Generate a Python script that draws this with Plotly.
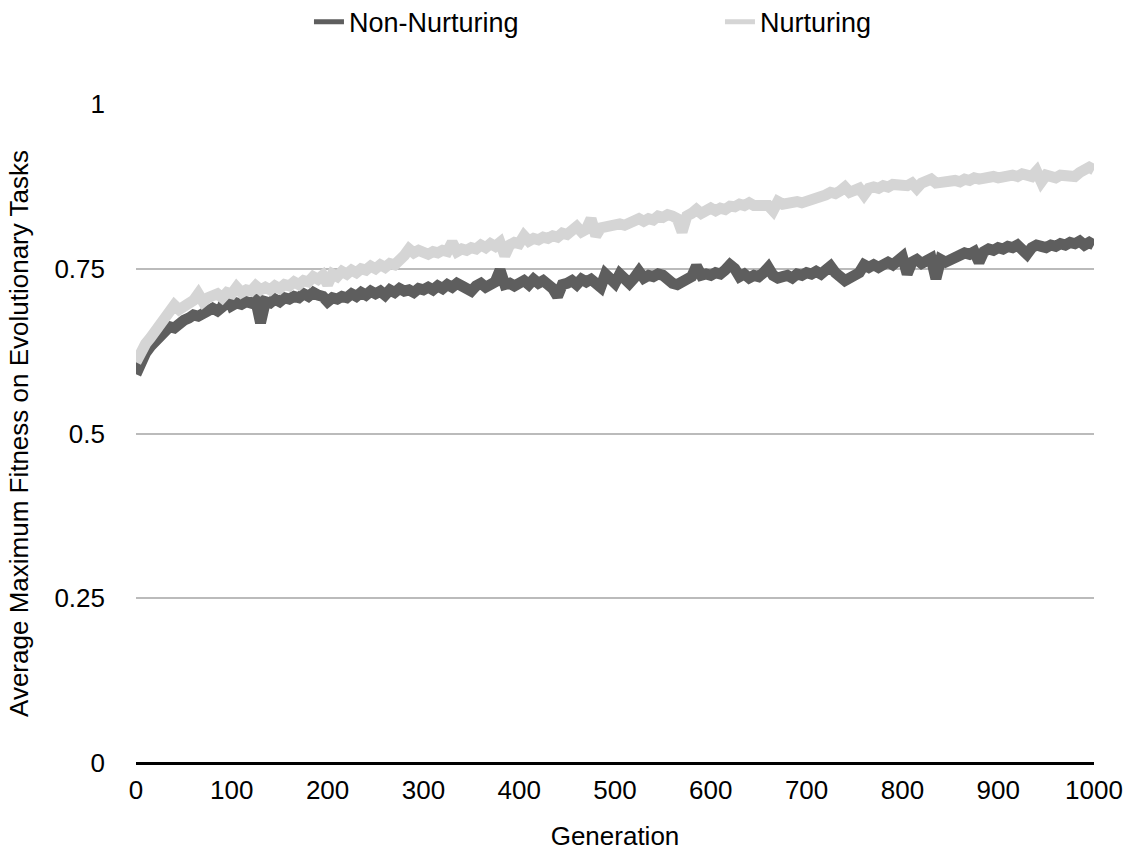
import plotly.graph_objects as go

generations = list(range(0, 1001, 5))

non_nurturing = [
    0.590, 0.608, 0.622, 0.632, 0.640, 0.650, 0.655, 0.662, 0.660, 0.668,
    0.672, 0.675, 0.680, 0.678, 0.684, 0.686, 0.690, 0.686, 0.692, 0.712,
    0.694, 0.698, 0.696, 0.700, 0.698, 0.702, 0.668, 0.700, 0.698, 0.704,
    0.700, 0.706, 0.704, 0.708, 0.706, 0.712, 0.708, 0.714, 0.710, 0.708,
    0.700, 0.706, 0.704, 0.708, 0.706, 0.712, 0.708, 0.714, 0.710, 0.716,
    0.712, 0.716, 0.710, 0.718, 0.714, 0.720, 0.716, 0.718, 0.714, 0.720,
    0.718, 0.722, 0.718, 0.724, 0.720, 0.726, 0.722, 0.728, 0.724, 0.722,
    0.716, 0.724, 0.728, 0.722, 0.726, 0.730, 0.748, 0.726, 0.728, 0.724,
    0.728, 0.732, 0.726, 0.734, 0.728, 0.732, 0.726, 0.720, 0.708, 0.726,
    0.728, 0.732, 0.726, 0.734, 0.730, 0.734, 0.728, 0.722, 0.742, 0.732,
    0.728, 0.742, 0.732, 0.728, 0.736, 0.746, 0.736, 0.740, 0.738, 0.742,
    0.740, 0.732, 0.728, 0.726, 0.730, 0.734, 0.738, 0.754, 0.740, 0.742,
    0.740, 0.744, 0.742, 0.748, 0.756, 0.750, 0.738, 0.742, 0.736, 0.740,
    0.738, 0.744, 0.752, 0.740, 0.736, 0.738, 0.740, 0.736, 0.742, 0.740,
    0.744, 0.742, 0.746, 0.742, 0.748, 0.754, 0.744, 0.740, 0.732, 0.736,
    0.740, 0.744, 0.756, 0.752, 0.756, 0.752, 0.756, 0.760, 0.756, 0.762,
    0.768, 0.742, 0.760, 0.764, 0.758, 0.762, 0.766, 0.735, 0.764, 0.760,
    0.764, 0.768, 0.770, 0.774, 0.772, 0.776, 0.760, 0.776, 0.780, 0.778,
    0.782, 0.780, 0.784, 0.782, 0.786, 0.780, 0.772, 0.782, 0.786, 0.784,
    0.782, 0.786, 0.784, 0.788, 0.786, 0.790, 0.788, 0.792, 0.786, 0.790,
    0.786,
]

nurturing = [
    0.608, 0.625, 0.636, 0.645, 0.655, 0.665, 0.672, 0.680, 0.695, 0.688,
    0.692, 0.698, 0.702, 0.712, 0.700, 0.706, 0.708, 0.712, 0.706, 0.714,
    0.712, 0.722, 0.714, 0.718, 0.716, 0.724, 0.718, 0.722, 0.718, 0.724,
    0.720, 0.726, 0.724, 0.730, 0.726, 0.732, 0.730, 0.738, 0.734, 0.740,
    0.726, 0.742, 0.738, 0.746, 0.742, 0.748, 0.744, 0.750, 0.748, 0.754,
    0.750, 0.756, 0.752, 0.758, 0.756, 0.762, 0.770, 0.780, 0.774, 0.778,
    0.774, 0.772, 0.776, 0.774, 0.778, 0.776, 0.790, 0.776, 0.780, 0.778,
    0.782, 0.780, 0.786, 0.782, 0.788, 0.784, 0.790, 0.770, 0.786, 0.790,
    0.788, 0.800, 0.792, 0.796, 0.794, 0.798, 0.796, 0.800, 0.798, 0.804,
    0.802, 0.806, 0.814, 0.806, 0.810, 0.826, 0.800, 0.812, 0.814, 0.816,
    0.814, 0.818, 0.816, 0.820, 0.822, 0.826, 0.822, 0.826, 0.824, 0.830,
    0.828, 0.832, 0.830, 0.826, 0.806, 0.830, 0.834, 0.840, 0.834, 0.838,
    0.842, 0.838, 0.842, 0.840, 0.845, 0.844, 0.848, 0.846, 0.850, 0.846,
    0.845, 0.848, 0.846, 0.838, 0.852, 0.848, 0.850, 0.848, 0.852, 0.850,
    0.852, 0.856, 0.854, 0.860, 0.862, 0.866, 0.864, 0.868, 0.874, 0.866,
    0.870, 0.872, 0.862, 0.872, 0.874, 0.872, 0.876, 0.874, 0.878, 0.876,
    0.878, 0.876, 0.880, 0.872, 0.880, 0.882, 0.886, 0.880, 0.882, 0.884,
    0.882, 0.884, 0.882, 0.886, 0.884, 0.888, 0.886, 0.888, 0.886, 0.890,
    0.888, 0.890, 0.888, 0.892, 0.890, 0.894, 0.892, 0.890, 0.898, 0.882,
    0.892, 0.890, 0.888, 0.892, 0.890, 0.892, 0.890, 0.896, 0.900, 0.904,
    0.900,
]

assert len(non_nurturing) == len(generations), len(non_nurturing)
assert len(nurturing) == len(generations), len(nurturing)

x_ticks = list(range(0, 1001, 100))
y_ticks = [0, 0.25, 0.5, 0.75, 1]
y_tick_labels = ["0", "0.25", "0.5", "0.75", "1"]

DARK = "#5e5e5e"
LIGHT = "#d5d5d5"
FONT = "Helvetica Neue, Helvetica, Liberation Sans, Arial, sans-serif"

fig = go.Figure()
fig.add_trace(go.Scatter(x=generations, y=non_nurturing, mode="lines",
                         name="Non-Nurturing", showlegend=False,
                         legendgroup="nn",
                         line=dict(color=DARK, width=11)))
fig.add_trace(go.Scatter(x=generations, y=nurturing, mode="lines",
                         name="Nurturing", showlegend=False,
                         legendgroup="n",
                         line=dict(color=LIGHT, width=11)))
# legend entries (thinner swatches as in the original)
fig.add_trace(go.Scatter(x=[None], y=[None], mode="lines", name="Non-Nurturing",
                         legendgroup="nn", line=dict(color=DARK, width=5)))
fig.add_trace(go.Scatter(x=[None], y=[None], mode="lines", name="Nurturing",
                         legendgroup="n", line=dict(color=LIGHT, width=5)))

fig.update_layout(
    width=1133, height=852,
    margin=dict(l=136, r=39, t=104, b=89, autoexpand=False),
    plot_bgcolor="white", paper_bgcolor="white",
    font=dict(family=FONT, size=26, color="#000000"),
    showlegend=True,
    legend=dict(orientation="h", xref="container", yref="container",
                x=0.2727, xanchor="left", y=0.974, yanchor="middle",
                font=dict(size=27), entrywidth=366, entrywidthmode="pixels",
                traceorder="normal"),
)
fig.update_xaxes(range=[0, 1000], tickvals=x_ticks, showgrid=False,
                 zeroline=False, showline=False, ticks="", automargin=False,
                 tickfont=dict(size=26), ticklabelstandoff=9,
                 title=dict(text="Generation", font=dict(size=26), standoff=22))
fig.update_yaxes(range=[0, 1], tickvals=y_ticks, ticktext=y_tick_labels,
                 showgrid=True, gridcolor="#bbbbbb", gridwidth=2,
                 zeroline=True, zerolinecolor="#000000", zerolinewidth=3,
                 showline=False, ticks="", ticklabelstandoff=30, automargin=False,
                 tickfont=dict(size=26),
                 title=dict(text="Average Maximum Fitness on Evolutionary Tasks",
                            font=dict(size=26), standoff=18))

fig.write_html("out.html")
